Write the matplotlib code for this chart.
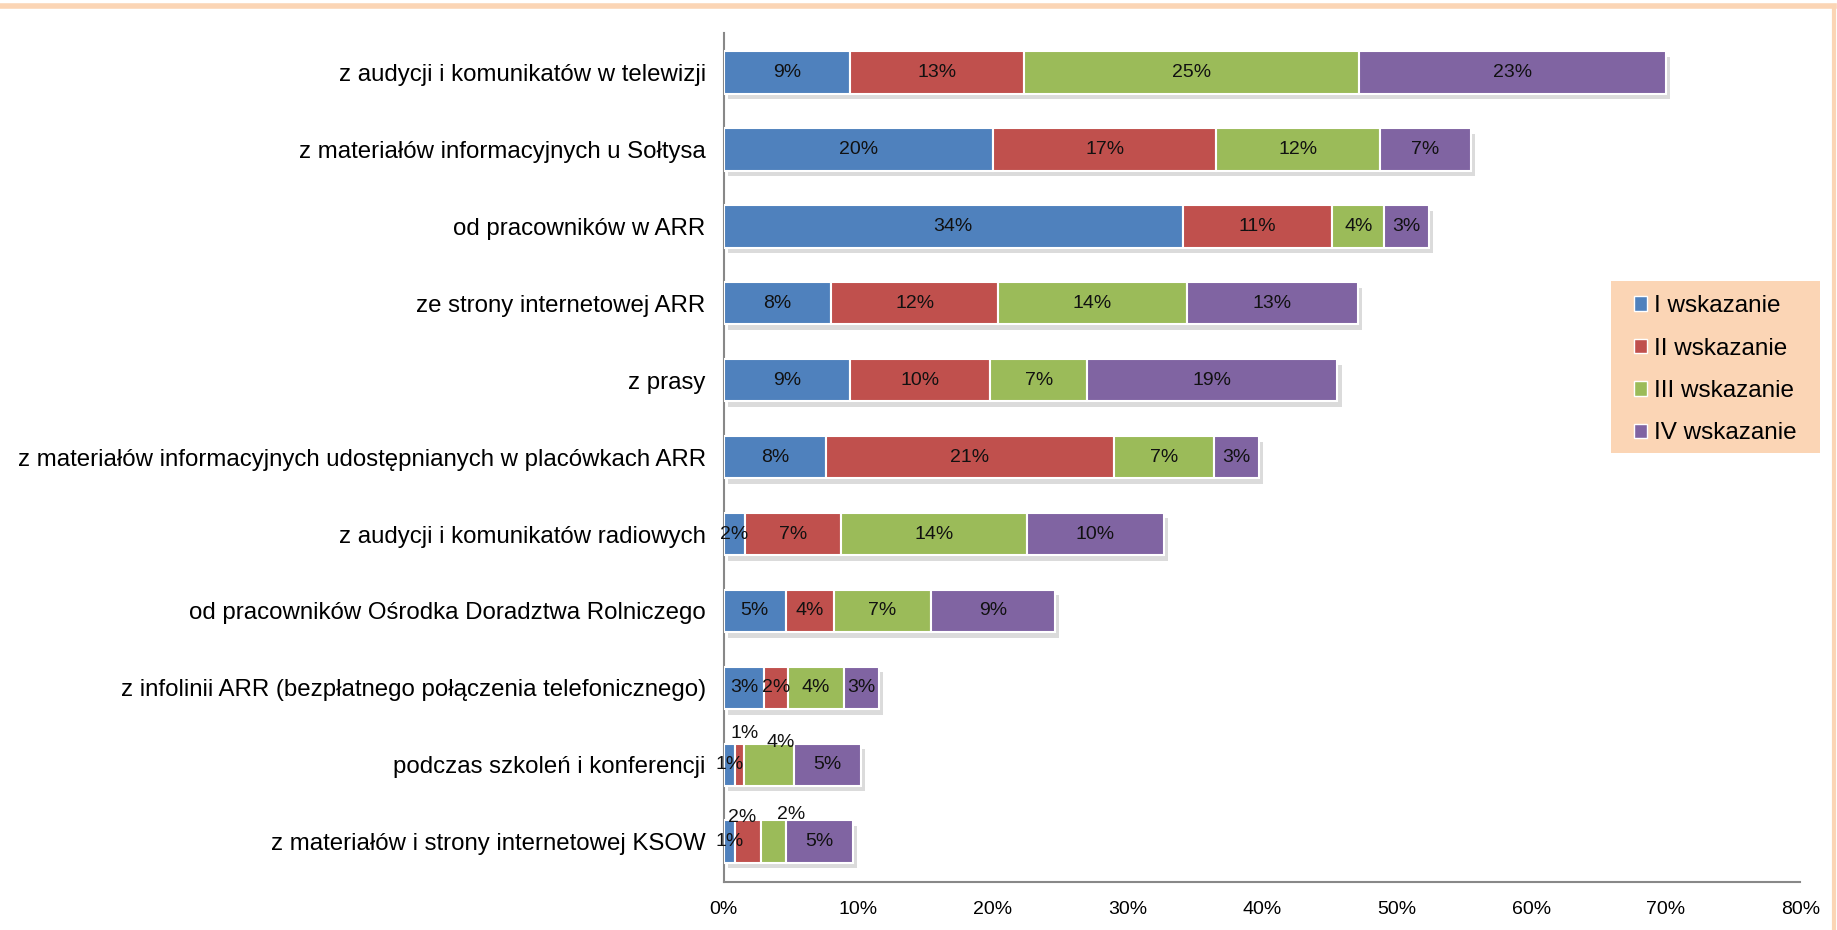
import matplotlib.pyplot as plt
import matplotlib.patheffects as pe
from matplotlib.lines import Line2D
from matplotlib.patches import Patch, Rectangle

plt.rcParams['font.family'] = ['Liberation Sans', 'DejaVu Sans']

# Dane
categories = [
    'z audycji i komunikatów w telewizji',
    'z materiałów informacyjnych u Sołtysa',
    'od pracowników w ARR',
    'ze strony internetowej ARR',
    'z prasy',
    'z materiałów informacyjnych udostępnianych w placówkach ARR',
    'z audycji i komunikatów radiowych',
    'od pracowników Ośrodka Doradztwa Rolniczego',
    'z infolinii ARR (bezpłatnego połączenia telefonicznego)',
    'podczas szkoleń i konferencji',
    'z materiałów i strony internetowej KSOW',
]
series_names = ['I wskazanie', 'II wskazanie', 'III wskazanie', 'IV wskazanie']
wsk_1 = [9.4, 20.0, 34.1, 8.0, 9.4, 7.6, 1.6, 4.6, 3.0, 0.8, 0.8]
wsk_2 = [12.9, 16.6, 11.1, 12.4, 10.4, 21.4, 7.1, 3.6, 1.8, 0.7, 2.0]
wsk_3 = [24.9, 12.2, 3.9, 14.0, 7.2, 7.4, 13.8, 7.2, 4.1, 3.7, 1.8]
wsk_4 = [22.8, 6.7, 3.3, 12.7, 18.6, 3.4, 10.2, 9.2, 2.6, 5.0, 5.0]
x_ticks = [0, 10, 20, 30, 40, 50, 60, 70, 80]

colors = ['#4F81BD', '#C0504D', '#9BBB59', '#8064A2']
# przesunięcia etykiet, które Excel odsunął od środka (seria, wiersz) -> (dx, dy)
label_shift = {
    (1, 9): (0.4, -0.41),
    (2, 9): (0.85, -0.29),
    (1, 10): (-0.4, -0.32),
    (2, 10): (1.3, -0.35),
}

fig = plt.figure(figsize=(18.37, 9.30), dpi=100)
ax = fig.add_axes([0.394, 0.052, 0.586, 0.913])

series = [wsk_1, wsk_2, wsk_3, wsk_4]
y = list(range(len(categories)))
left = [0.0] * len(categories)
shadow = [pe.SimplePatchShadow(offset=(3, -4), shadow_rgbFace='#999999', alpha=0.35), pe.Normal()]
for s, vals in enumerate(series):
    bars = ax.barh(y, vals, left=left, height=0.55, color=colors[s],
                   edgecolor='white', linewidth=1.5, zorder=3)
    for b in bars:
        b.set_path_effects(shadow)
    for i, v in enumerate(vals):
        dx, dy = label_shift.get((s, i), (0.0, 0.0))
        ax.text(left[i] + v / 2 + dx, i + dy, f'{v:.0f}%', ha='center', va='center',
                fontsize=14, color='#111111', zorder=5)
    left = [l + v for l, v in zip(left, vals)]

ax.set_xlim(0, 80)
ax.set_ylim(len(categories) - 0.48, -0.52)
ax.set_yticks(y)
ax.set_yticklabels(categories, fontsize=17.3)
ax.set_xticks(x_ticks)
ax.set_xticklabels([f'{t}%' for t in x_ticks], fontsize=14)
ax.tick_params(axis='y', length=0, pad=13)
ax.tick_params(axis='x', length=0, pad=14)
for sp in ['top', 'right']:
    ax.spines[sp].set_visible(False)
ax.spines['left'].set_color('#888888')
ax.spines['bottom'].set_color('#888888')
ax.spines['left'].set_linewidth(1.5)
ax.spines['bottom'].set_linewidth(1.5)

# tło legendy
fig.add_artist(Rectangle((0.877, 0.5126), 0.1135, 0.1851, facecolor='#FBD5B5',
                         edgecolor='none', transform=fig.transFigure, zorder=1))
handles = [Patch(facecolor=c, edgecolor='white') for c in colors]
leg = fig.legend(handles, series_names, loc='upper left', bbox_to_anchor=(0.8893, 0.6826),
                 borderaxespad=0, borderpad=0, fontsize=17.5, frameon=False,
                 handlelength=0.55, handleheight=0.55, handletextpad=0.3,
                 labelspacing=0.84)
leg.set_zorder(2)

# obramowanie
fig.add_artist(Line2D([0, 0.9985], [0.9935, 0.9935], color='#FBD5B5', linewidth=4, transform=fig.transFigure))
fig.add_artist(Line2D([0.9985, 0.9985], [0.0, 0.9935], color='#FBD5B5', linewidth=3, transform=fig.transFigure))

fig.savefig('out.png', dpi=100)
